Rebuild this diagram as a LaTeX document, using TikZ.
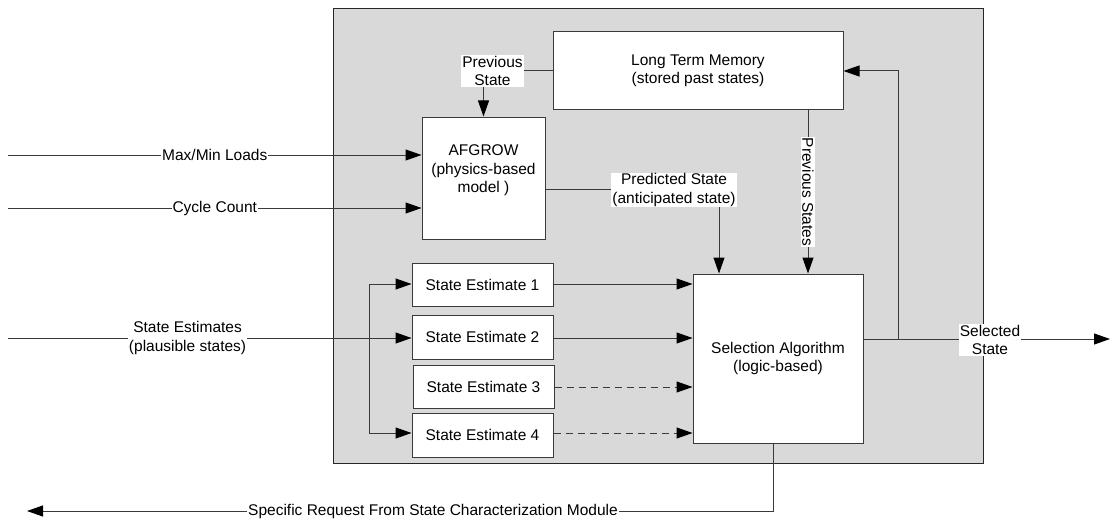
\documentclass[tikz,border=0pt]{standalone}
\usepackage{fontspec}
\setmainfont{Liberation Sans}
\usetikzlibrary{arrows.meta}
\definecolor{panel}{HTML}{D9D9D9}
\definecolor{ln}{HTML}{3A3A3A}
\tikzset{
  txt/.style={font=\fontsize{15.5}{18.5}\selectfont, align=center},
  box/.style={txt, draw=ln, line width=1pt, fill=white, inner sep=0pt},
  lbl/.style={txt, fill=white, inner sep=1pt},
  conn/.style={draw=ln, line width=1pt},
  arr/.style={conn, -{Triangle[length=16pt,width=11pt,color=black]}},
  dsh/.style={arr, dash pattern=on 7pt off 5pt}
}
\begin{document}
\begin{tikzpicture}[x=1pt,y=-1pt]
\useasboundingbox (0,0) rectangle (1112,519);
% panel
\path[fill=panel, draw=black!85, line width=1pt] (333,9) rectangle (983,463);

% boxes
\node[box, minimum width=290pt, minimum height=78pt] (ltm) at (698,71) {Long Term Memory\\(stored past states)};
\node[box, minimum width=123pt, minimum height=122pt] (afg) at (483.5,178) {AFGROW\\(physics-based\\model )\\\mbox{}};
\node[box, minimum width=170pt, minimum height=169pt] (sel) at (778,358.5) {Selection Algorithm\\(logic-based)};
\node[box, minimum width=141pt, minimum height=43pt] (se1) at (482.5,284.5) {State Estimate 1};
\node[box, minimum width=141pt, minimum height=44pt] (se2) at (482.5,337) {State Estimate 2};
\node[box, minimum width=141pt, minimum height=43pt] (se3) at (483.5,386.5) {State Estimate 3};
\node[box, minimum width=141pt, minimum height=44pt] (se4) at (482.5,435) {State Estimate 4};

% inputs
\coordinate (inMM) at (8,155);
\coordinate (inCC) at (8,208);
\coordinate (inSE) at (8,338);
\draw[arr] (inMM) -- node[lbl, midway] {Max/Min Loads} (inMM -| afg.west);
\draw[arr] (inCC) -- node[lbl, midway] {Cycle Count} (inCC -| afg.west);
\draw[arr] (inSE) -- node[lbl, pos=0.445] {State Estimates\\(plausible states)} (inSE -| se2.west);

% bracket to estimates 1 and 4
\coordinate (br) at (369,338);
\draw[arr] (br) |- (se1.west |- 0,284);
\draw[arr] (br) |- (se4.west |- 0,433);

% estimates to selection
\draw[arr] (se1.east |- 0,284) -- (sel.west |- 0,284);
\draw[arr] (se2.east |- 0,338) -- (sel.west |- 0,338);
\draw[dsh] (se3.east |- 0,387) -- (sel.west |- 0,387);
\draw[dsh] (se4.east |- 0,433) -- (sel.west |- 0,433);

% previous state (LTM -> AFGROW)
\draw[arr] (ltm.west) -| (afg.north);
\node[lbl] (ps) at (492.5,71) {Previous\\State};

% predicted state
\coordinate (pc) at (719,189);
\draw[arr] (afg.east |- pc) -- (pc) -- (pc |- sel.north);
\node[lbl] (pred) at (674,190) {Predicted State\\(anticipated state)};

% previous states (LTM -> selection)
\coordinate (pv) at (808,192);
\draw[arr] (ltm.south -| pv) -- (sel.north -| pv);
\node[lbl, rotate=-90] (pss) at (pv) {Previous States};

% selected state output and feedback
\coordinate (so) at (1110,339);
\coordinate (fb) at (898,339);
\draw[arr] (sel.east |- so) -- (so);
\draw[arr] (fb) |- (ltm.east);
\node[lbl] (ss) at (990,340) {Selected\\State};

% specific request
\coordinate (sr) at (27,511);
\draw[arr] (sel.south -| 773,0) |- (sr);
\node[lbl] (srl) at (433,511) {Specific Request From State Characterization Module};
\end{tikzpicture}
\end{document}
